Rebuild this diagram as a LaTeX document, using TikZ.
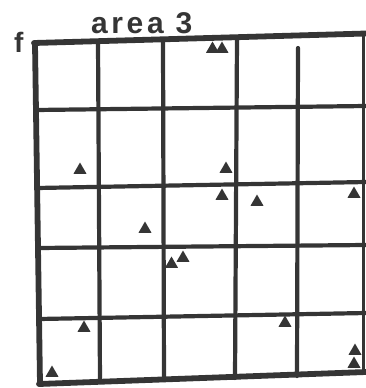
\documentclass[tikz,border=0pt]{standalone}
\usepackage{fontspec}
\newfontfamily\labfont[LetterSpace=12]{Liberation Sans}
\newfontfamily\ffont{Liberation Sans}
\usetikzlibrary{shapes.geometric}
\definecolor{ink}{HTML}{353535}
\tikzset{
  gridline/.style={draw=ink, line width=4.2pt, line cap=round},
  frameline/.style={draw=ink, line width=5.8pt, line cap=round},
  tri/.style={regular polygon, regular polygon sides=3, fill=ink, inner sep=0pt, minimum size=15pt},
  lbl/.style={inner sep=0pt, text=ink, anchor=base west}
}
\begin{document}
\begin{tikzpicture}[x=1pt,y=-1pt]
\useasboundingbox (0,0) rectangle (365,388);
% horizontal inner lines
\draw[gridline] (36,110) -- (366,106);
\draw[gridline] (37,188) -- (366,182);
\draw[gridline] (38,248) -- (366,245);
\draw[gridline] (39,319) -- (366,313);
% vertical inner lines
\draw[gridline] (98,42) -- (100,382);
\draw[gridline] (163,40) -- (164,380);
\draw[gridline] (237,38) -- (235,378);
\draw[gridline] (298,48) -- (297,376);
% right border
\draw[draw=ink, line width=3pt] (363.5,33) -- (363.5,373);
% frame
\draw[frameline] (35,44) -- (40,384);
\draw[frameline] (34,43) -- (366,33.5);
\draw[frameline] (39,384) -- (366,372);
% labels
\node[lbl] (f) at (14,52) {\ffont\fontsize{28}{28}\selectfont\bfseries f};
\node[lbl] (area) at (91,33) {\labfont\fontsize{30}{30}\selectfont\bfseries area 3};
% triangles
\node[tri] (t1) at (212.5,49) {};
\node[tri] (t2) at (222,49) {};
\node[tri] (t3) at (80,170) {};
\node[tri] (t4) at (145,229) {};
\node[tri] (t5) at (183,258) {};
\node[tri] (t6) at (171.5,264) {};
\node[tri] (t7) at (226,169) {};
\node[tri] (t8) at (222,196) {};
\node[tri] (t9) at (257,202) {};
\node[tri] (t10) at (354,194) {};
\node[tri] (t11) at (84,328) {};
\node[tri] (t12) at (52,373) {};
\node[tri] (t13) at (285,323) {};
\node[tri] (t14) at (355,351) {};
\node[tri] (t15) at (354,364) {};
\end{tikzpicture}
\end{document}
